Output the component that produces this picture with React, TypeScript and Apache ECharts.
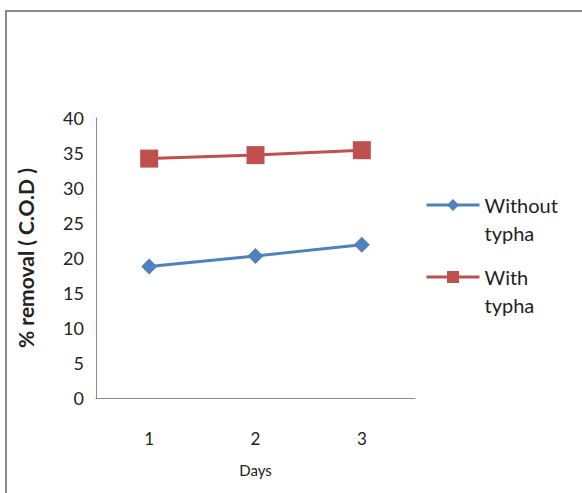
import React, { useEffect, useRef } from "react";
import * as echarts from "echarts";

const days = ["1", "2", "3"];
const withoutTypha = [18.8, 20.3, 21.9];
const withTypha = [34.2, 34.7, 35.4];
const seriesNames = ["Without\ntypha", "With\ntypha"];

export default function App() {
  const ref = useRef<HTMLDivElement>(null);
  useEffect(() => {
    document.body.style.margin = "0";
    const chart = echarts.init(ref.current!, null, { renderer: "svg" });
    const font = "Lato, 'Open Sans', sans-serif";
    const legendBase = {
      orient: "vertical",
      left: 425,
      padding: 0,
      itemWidth: 53,
      itemHeight: 15,
      lineStyle: { width: 3 },
      formatter: (name: string) => "\n" + name,
      textStyle: {
        fontFamily: font,
        fontSize: 20,
        color: "#222",
        lineHeight: 28,
      },
    };
    chart.setOption({
      animation: false,
      backgroundColor: "#fff",
      graphic: [
        {
          type: "rect",
          shape: { x: 6, y: 11, width: 640, height: 540 },
          style: { fill: "none", stroke: "#8a8a8a", lineWidth: 2 },
          silent: true,
        },
      ],
      grid: { left: 96, right: 167, top: 118, bottom: 95 },
      legend: [
        { ...legendBase, top: 163, data: [seriesNames[0]] },
        { ...legendBase, top: 235, data: [seriesNames[1]] },
      ],
      xAxis: {
        type: "category",
        data: days,
        name: "Days",
        nameLocation: "middle",
        nameGap: 64,
        nameTextStyle: { fontFamily: font, fontSize: 15, color: "#222" },
        axisLine: { lineStyle: { color: "#8c8c8c", width: 1 } },
        axisTick: { show: false },
        axisLabel: { fontFamily: font, fontSize: 17, color: "#222", margin: 32 },
      },
      yAxis: {
        type: "value",
        min: 0,
        max: 40,
        interval: 5,
        name: "% removal ( C.O.D )",
        nameLocation: "middle",
        nameGap: 60,
        nameTextStyle: { fontFamily: font, fontSize: 21, fontWeight: "bold", color: "#222" },
        axisLine: { show: true, lineStyle: { color: "#8c8c8c", width: 1 } },
        axisTick: { show: false },
        splitLine: { show: false },
        axisLabel: { fontFamily: font, fontSize: 18, color: "#222", margin: 12 },
      },
      series: [
        {
          name: seriesNames[0],
          type: "line",
          data: withoutTypha,
          symbol: "diamond",
          symbolSize: 16,
          lineStyle: { color: "#4F81BD", width: 3 },
          itemStyle: { color: "#4F81BD" },
        },
        {
          name: seriesNames[1],
          type: "line",
          data: withTypha,
          symbol: "rect",
          symbolSize: 18,
          lineStyle: { color: "#C0504D", width: 3 },
          itemStyle: { color: "#C0504D" },
        },
      ],
    });
    return () => chart.dispose();
  }, []);
  return <div ref={ref} style={{ width: 582, height: 493 }} />;
}
